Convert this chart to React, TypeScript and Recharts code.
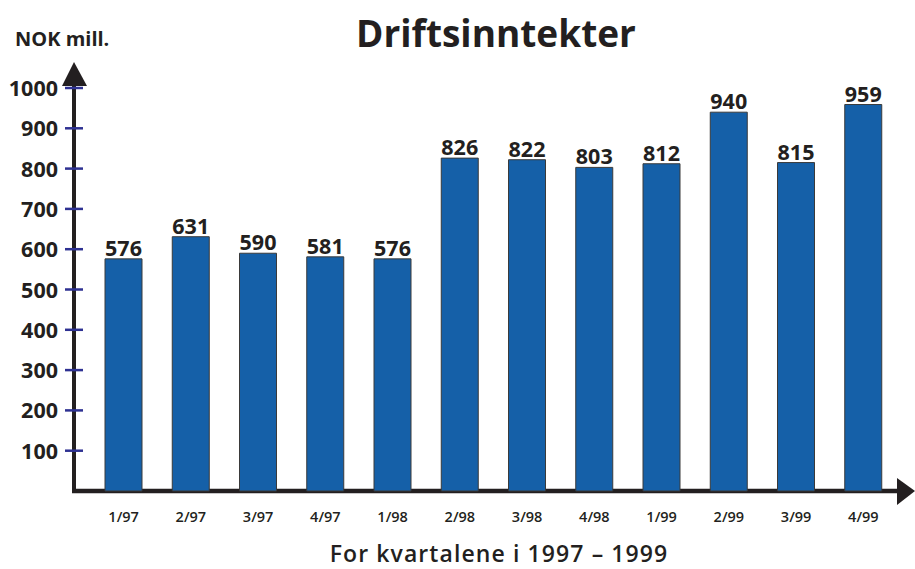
import { BarChart, Bar, XAxis, YAxis, LabelList, Customized } from "recharts";

const quarters = ["1/97", "2/97", "3/97", "4/97", "1/98", "2/98", "3/98", "4/98", "1/99", "2/99", "3/99", "4/99"];
const revenue = [576, 631, 590, 581, 576, 826, 822, 803, 812, 940, 815, 959];
const yTicks = [100, 200, 300, 400, 500, 600, 700, 800, 900, 1000];

const FONT = "'Open Sans', 'Noto Sans', sans-serif";
const INK = "#231f20";
const BLUE = "#1560a8";

const W = 915;
const H = 569;
const AXIS_X = 74;
const AXIS_Y = 491;
const X_AXIS_H = 30;

const data = quarters.map((q, i) => ({ q, value: revenue[i] }));

function YTick({ x, y, payload }: any) {
  return (
    <g>
      <line x1={x - 9} x2={x + 9} y1={y} y2={y} stroke="#2e3192" strokeWidth={2.5} />
      <text x={x - 16} y={y} dy={8} textAnchor="end" fontFamily={FONT} fontWeight={700} fontSize={21.5} fill={INK}>
        {payload.value}
      </text>
    </g>
  );
}

function XTick({ x, y, payload }: any) {
  return (
    <text x={x} y={y} dy={23} textAnchor="middle" fontFamily={FONT} fontWeight={600} fontSize={14.5} fill={INK}>
      {payload.value}
    </text>
  );
}

// axis arrows + titles (decoration)
function Decor() {
  const ax = AXIS_X;
  const ay = AXIS_Y;
  return (
    <g>
      <line x1={ax} x2={ax} y1={84} y2={ay + 2} stroke={INK} strokeWidth={4} />
      <line x1={ax - 2} x2={900} y1={ay} y2={ay} stroke={INK} strokeWidth={4.5} />
      <polygon points={`${ax},62 ${ax - 12},86 ${ax + 13},86`} fill={INK} />
      <polygon points={`915,${ay} 897,${ay - 13} 897,${ay + 14}`} fill={INK} />
      <text x={496} y={47} textAnchor="middle" fontFamily={FONT} fontWeight={700} fontSize={37} fill={INK}>
        Driftsinntekter
      </text>
      <text x={15} y={46} fontFamily={FONT} fontWeight={700} fontSize={20} fill={INK}>
        NOK mill.
      </text>
      <text x={499} y={562} textAnchor="middle" fontFamily={FONT} fontWeight={600} fontSize={23} letterSpacing={1.1} fill={INK}>
        For kvartalene i 1997 – 1999
      </text>
    </g>
  );
}

export default function App() {
  return (
    <div style={{ position: "absolute", left: 0, top: 0, width: W, height: H, background: "#fff" }}>
      <BarChart
        width={W}
        height={H}
        data={data}
        margin={{ top: 88, right: 18, bottom: H - AXIS_Y - X_AXIS_H, left: 0 }}
        barSize={37}
      >
        <XAxis
          dataKey="q"
          height={X_AXIS_H}
          axisLine={false}
          tickLine={false}
          tick={<XTick />}
          padding={{ left: 16, right: 0 }}
          interval={0}
        />
        <YAxis
          domain={[0, 1000]}
          ticks={yTicks}
          axisLine={false}
          tickLine={false}
          tickSize={0}
          tickMargin={0}
          width={AXIS_X}
          tick={<YTick />}
          interval={0}
        />
        <Bar dataKey="value" fill={BLUE} stroke="#3a3a3a" strokeWidth={1} isAnimationActive={false}>
          <LabelList
            dataKey="value"
            position="top"
            offset={3}
            fontFamily={FONT}
            fontWeight={700}
            fontSize={21.5}
            fill={INK}
          />
        </Bar>
        <Customized component={<Decor />} />
      </BarChart>
    </div>
  );
}
